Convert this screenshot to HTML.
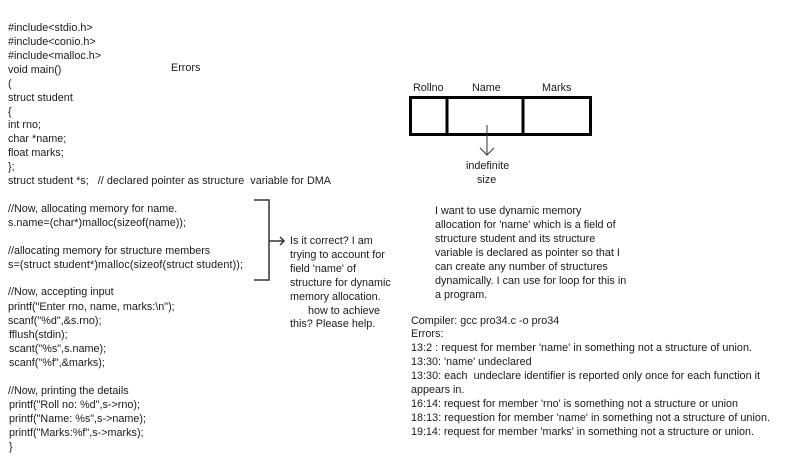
<!DOCTYPE html>
<html><head><meta charset="utf-8"><style>
html,body{margin:0;padding:0;background:#fff;width:800px;height:467px;overflow:hidden}
svg text{font-family:"Liberation Sans",sans-serif;font-size:10.8px;fill:#1a1a1a;dominant-baseline:central}
</style></head><body>
<svg width="800" height="467" xmlns="http://www.w3.org/2000/svg">
<g>
<text x="8" y="28">#include&lt;stdio.h&gt;</text>
<text x="8" y="42">#include&lt;conio.h&gt;</text>
<text x="8" y="56">#include&lt;malloc.h&gt;</text>
<text x="8" y="70">void main()</text>
<text x="8" y="84">(</text>
<text x="8" y="98">struct student</text>
<text x="8" y="112">{</text>
<text x="8" y="125">int rno;</text>
<text x="8" y="139">char *name;</text>
<text x="8" y="153">float marks;</text>
<text x="8" y="167">};</text>
<text x="8" y="181" textLength="323" xml:space="preserve">struct student *s;   // declared pointer as structure  variable for DMA</text>
<text x="8" y="209">//Now, allocating memory for name.</text>
<text x="8" y="223">s.name=(char*)malloc(sizeof(name));</text>
<text x="8" y="251">//allocating memory for structure members</text>
<text x="8" y="265" textLength="235">s=(struct student*)malloc(sizeof(struct student));</text>
<text x="8" y="292">//Now, accepting input</text>
<text x="8" y="307">printf("Enter rno, name, marks:\n");</text>
<text x="8" y="321">scanf("%d",&amp;s.rno);</text>
<text x="9" y="335">fflush(stdin);</text>
<text x="9" y="349">scant("%s",s.name);</text>
<text x="9" y="363">scanf("%f",&amp;marks);</text>
<text x="8" y="391">//Now, printing the details</text>
<text x="9" y="405">printf("Roll no: %d",s-&gt;rno);</text>
<text x="9" y="419">printf("Name: %s",s-&gt;name);</text>
<text x="9" y="433">printf("Marks:%f",s-&gt;marks);</text>
<text x="9" y="447">}</text>
<text x="171" y="68">Errors</text>
</g>
<g stroke="#333" stroke-width="1.5" fill="none">
<polyline points="254,200 269,200 269,280 254,280"/>
<line x1="269" y1="241" x2="284" y2="241"/>
<polyline points="280,237 284,241 280,245"/>
</g>
<g>
<text x="290" y="241">Is it correct? I am</text>
<text x="290" y="255">trying to account for</text>
<text x="290" y="269">field 'name' of</text>
<text x="290" y="283">structure for dynamic</text>
<text x="290" y="297">memory allocation.</text>
<text x="308" y="311">how to achieve</text>
<text x="290" y="324">this? Please help.</text>
</g>
<g>
<text x="413" y="88">Rollno</text>
<text x="472" y="88">Name</text>
<text x="542" y="88">Marks</text>
</g>
<g stroke="#000" stroke-width="3" fill="none">
<rect x="410.5" y="97.5" width="180" height="37"/>
<line x1="447" y1="97" x2="447" y2="135"/>
<line x1="523" y1="97" x2="523" y2="135"/>
</g>
<g stroke="#333" stroke-width="1" fill="none">
<line x1="487" y1="125" x2="487" y2="154"/>
<polyline points="480,148 487,155 494,148"/>
</g>
<text x="466" y="166">indefinite</text>
<text x="477" y="180">size</text>
<g>
<text x="435" y="211">I want to use dynamic memory</text>
<text x="435" y="225">allocation for 'name' which is a field of</text>
<text x="435" y="239">structure student and its structure</text>
<text x="435" y="253">variable is declared as pointer so that I</text>
<text x="435" y="267">can create any number of structures</text>
<text x="435" y="281">dynamically. I can use for loop for this in</text>
<text x="435" y="295">a program.</text>
</g>
<g>
<text x="411" y="321">Compiler: gcc pro34.c -o pro34</text>
<text x="411" y="334">Errors:</text>
<text x="411" y="348" textLength="341">13:2 : request for member 'name' in something not a structure of union.</text>
<text x="411" y="362">13:30: 'name' undeclared</text>
<text x="411" y="376" textLength="349" xml:space="preserve">13:30: each  undeclare identifier is reported only once for each function it</text>
<text x="411" y="390">appears in.</text>
<text x="411" y="404" textLength="327">16:14: request for member 'rno' is something not a structure or union</text>
<text x="411" y="418" textLength="359">18:13: requestion for member 'name' in something not a structure of union.</text>
<text x="411" y="432" textLength="343">19:14: request for member 'marks' in something not a structure or union.</text>
</g>
</svg>
</body></html>
